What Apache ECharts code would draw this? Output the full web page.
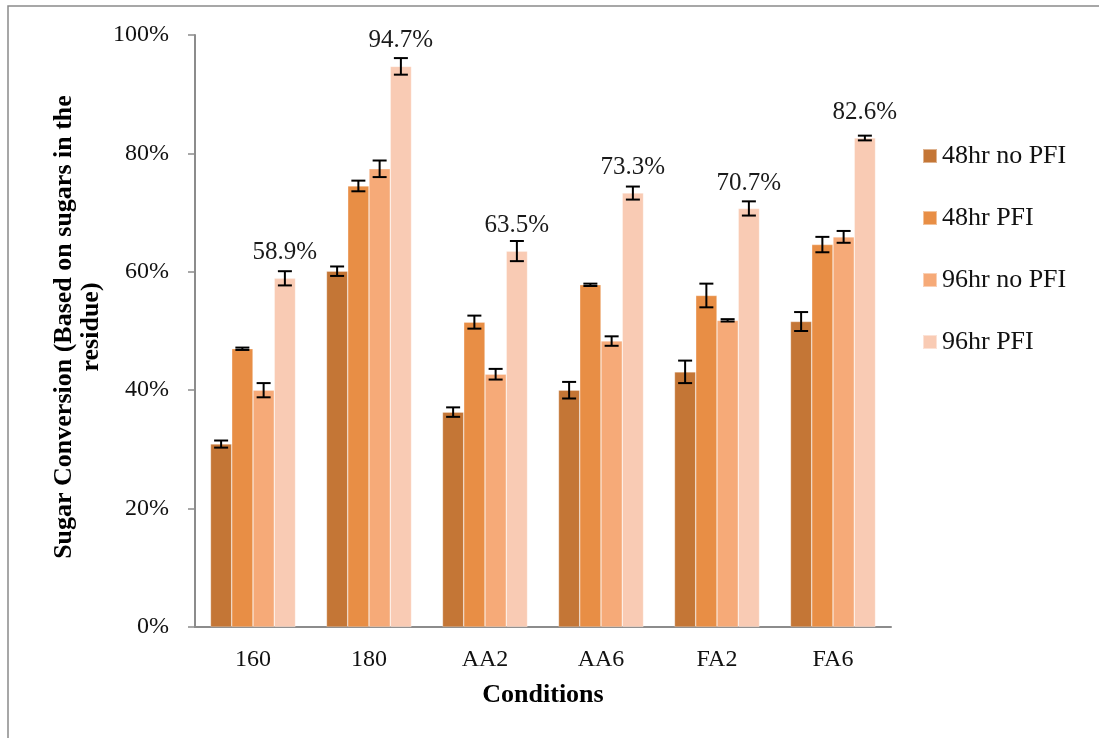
<!DOCTYPE html>
<html>
<head>
<meta charset="utf-8">
<title>Sugar Conversion by Condition</title>
<script src="https://cdn.jsdelivr.net/npm/echarts@6.0.0/dist/echarts.min.js"></script>
<style>
  html, body { margin: 0; padding: 0; background: #ffffff; }
  #chart { width: 1099px; height: 738px; }
</style>
</head>
<body>
<div id="chart"></div>
<script>
// Pretreatment conditions along the x axis
const conditions = ['160', '180', 'AA2', 'AA6', 'FA2', 'FA6'];

// Series names (hydrolysis time / PFI refining)
const seriesNames = ['48hr no PFI', '48hr PFI', '96hr no PFI', '96hr PFI'];

// Sugar conversion, percent
const conv48NoPFI = [30.9, 60.1, 36.3, 40.0, 43.1, 51.6];
const conv48PFI   = [47.0, 74.5, 51.5, 57.8, 56.0, 64.6];
const conv96NoPFI = [40.0, 77.4, 42.7, 48.3, 51.8, 65.9];
const conv96PFI   = [58.9, 94.7, 63.5, 73.3, 70.7, 82.6];

// Standard deviations, percent
const err48NoPFI = [0.6, 0.8, 0.8, 1.4, 1.9, 1.6];
const err48PFI   = [0.2, 0.9, 1.1, 0.2, 2.0, 1.3];
const err96NoPFI = [1.2, 1.4, 0.9, 0.8, 0.2, 1.0];
const err96PFI   = [1.2, 1.4, 1.7, 1.1, 1.2, 0.4];

// Y axis ticks
const yTicks = [0, 20, 40, 60, 80, 100];

const colors = ['#C47636', '#E88E45', '#F6AA78', '#F9CBB4'];
const values = [conv48NoPFI, conv48PFI, conv96NoPFI, conv96PFI];
const errors = [err48NoPFI, err48PFI, err96NoPFI, err96PFI];

const FONT = "'Liberation Serif', 'Times New Roman', serif";
const CAT_GAP = 0.267;   // fraction of each category band left empty
const N = seriesNames.length;

const barSeries = seriesNames.map((name, s) => ({
  name: name,
  type: 'bar',
  barGap: '0%',
  barCategoryGap: (CAT_GAP * 100).toFixed(1) + '%',
  itemStyle: { color: colors[s], borderColor: 'rgba(255,255,255,0.45)', borderWidth: 0.6 },
  label: s === N - 1 ? {
    show: true,
    position: 'top',
    distance: 13,
    fontFamily: FONT,
    fontSize: 25,
    color: '#1a1a1a',
    formatter: p => p.value.toFixed(1) + '%'
  } : { show: false },
  data: values[s],
  z: 2
}));

// Error bar rows: [category index, value, error, series index]
const errData = [];
seriesNames.forEach((_, s) => {
  values[s].forEach((v, i) => errData.push([i, v, errors[s][i], s]));
});

const errorSeries = {
  type: 'custom',
  name: 'error',
  data: errData,
  z: 5,
  renderItem: function (params, api) {
    const cat = api.value(0), v = api.value(1), e = api.value(2), s = api.value(3);
    const band = api.size([1, 0])[0];
    const barW = band * (1 - CAT_GAP) / N;
    const base = api.coord([cat, v]);
    const x = base[0] + (s - (N - 1) / 2) * barW;
    const yHi = api.coord([cat, v + e])[1];
    const yLo = api.coord([cat, v - e])[1];
    const cap = 7;
    const st = { stroke: '#000', lineWidth: 2 };
    return {
      type: 'group',
      children: [
        { type: 'line', shape: { x1: x, y1: yHi, x2: x, y2: yLo }, style: st },
        { type: 'line', shape: { x1: x - cap, y1: yHi, x2: x + cap, y2: yHi }, style: st },
        { type: 'line', shape: { x1: x - cap, y1: yLo, x2: x + cap, y2: yLo }, style: st }
      ]
    };
  }
};

const chart = echarts.init(document.getElementById('chart'), null, { renderer: 'canvas' });

chart.setOption({
  backgroundColor: '#ffffff',
  animation: false,
  textStyle: { fontFamily: FONT },
  grid: { left: 195, right: 208, top: 35, bottom: 111, containLabel: false },
  legend: {
    orient: 'vertical',
    left: 922,
    top: 143,
    padding: 0,
    itemWidth: 14,
    itemHeight: 14,
    itemGap: 36,
    icon: 'rect',
    data: seriesNames,
    textStyle: { fontFamily: FONT, fontSize: 26, color: '#111' }
  },
  xAxis: {
    type: 'category',
    data: conditions,
    axisLine: { lineStyle: { color: '#8c8c8c', width: 2 } },
    axisTick: { show: false },
    axisLabel: { fontFamily: FONT, fontSize: 24, color: '#111', margin: 21 },
    name: 'Conditions',
    nameLocation: 'middle',
    nameGap: 55,
    nameTextStyle: { fontFamily: FONT, fontSize: 26, fontWeight: 'bold', color: '#000' }
  },
  yAxis: {
    type: 'value',
    min: yTicks[0],
    max: yTicks[yTicks.length - 1],
    interval: yTicks[1] - yTicks[0],
    splitLine: { show: false },
    axisLine: { show: true, lineStyle: { color: '#8c8c8c', width: 2 } },
    axisTick: { show: true, inside: false, length: 7, lineStyle: { color: '#8c8c8c', width: 1.5 } },
    axisLabel: {
      fontFamily: FONT, fontSize: 24, color: '#111', margin: 26,
      formatter: v => v + '%'
    }
  },
  graphic: [
    {
      type: 'rect',
      silent: true,
      shape: { x: 8, y: 6, width: 1200, height: 900 },
      style: { fill: 'none', stroke: '#8a8a8a', lineWidth: 1.5 }
    },
    {
      type: 'text',
      silent: true,
      x: 78,
      y: 327,
      rotation: Math.PI / 2,
      style: {
        text: 'Sugar Conversion (Based on sugars in the\nresidue)',
        fontFamily: FONT,
        fontSize: 26,
        fontWeight: 'bold',
        fill: '#000',
        align: 'center',
        verticalAlign: 'middle',
        lineHeight: 27
      }
    }
  ],
  series: barSeries.concat([errorSeries])
});
</script>
</body>
</html>
